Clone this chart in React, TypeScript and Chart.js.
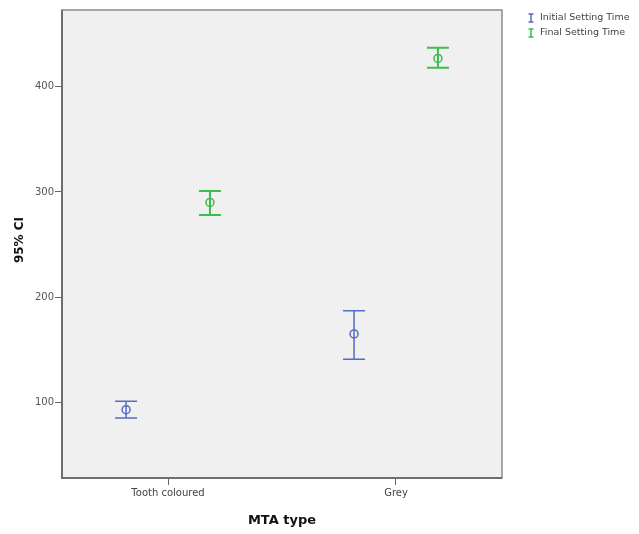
import React, { useEffect, useRef } from "react";
import { Chart, registerables } from "chart.js";
Chart.register(...registerables);

const categories = ["Tooth coloured", "Grey"];
const seriesNames = ["Initial Setting Time", "Final Setting Time"];
const initialMean = [93, 165];
const initialLower = [85, 141];
const initialUpper = [101, 187];
const finalMean = [290, 427];
const finalLower = [278, 418];
const finalUpper = [301, 437];
const yTicks = [100, 200, 300, 400];
const yTitle = "95% CI";
const xTitle = "MTA type";

const BLUE = "#556CC4";
const GREEN = "#3DBD4C";
const FONT = "'DejaVu Sans', Verdana, sans-serif";

const errorBarPlugin = {
  id: "errorBars",
  beforeDraw(chart: any) {
    const { ctx, chartArea } = chart;
    ctx.save();
    ctx.fillStyle = "#ffffff";
    ctx.fillRect(0, 0, chart.width, chart.height);
    ctx.fillStyle = "#F0F0F0";
    ctx.fillRect(chartArea.left, chartArea.top, chartArea.right - chartArea.left, chartArea.bottom - chartArea.top);
    ctx.restore();
  },
  afterDatasetsDraw(chart: any) {
    const { ctx, scales } = chart;
    const ys = scales.y;
    chart.data.datasets.forEach((ds: any, di: number) => {
      const meta = chart.getDatasetMeta(di);
      ctx.save();
      ctx.strokeStyle = ds.borderColor;
      ctx.lineWidth = ds.barWidth;
      meta.data.forEach((pt: any, i: number) => {
        const x = pt.x;
        const yl = ys.getPixelForValue(ds.lower[i]);
        const yu = ys.getPixelForValue(ds.upper[i]);
        const half = 11;
        ctx.beginPath();
        ctx.moveTo(x, yl);
        ctx.lineTo(x, yu);
        ctx.moveTo(x - half, yl);
        ctx.lineTo(x + half, yl);
        ctx.moveTo(x - half, yu);
        ctx.lineTo(x + half, yu);
        ctx.stroke();
      });
      ctx.restore();
    });
  },
  afterDraw(chart: any) {
    const { ctx, chartArea } = chart;
    ctx.save();
    // frame
    ctx.strokeStyle = "#8A8A8A";
    ctx.lineWidth = 1.5;
    ctx.strokeRect(chartArea.left, chartArea.top, chartArea.right - chartArea.left, chartArea.bottom - chartArea.top);
    ctx.strokeStyle = "#6E6E6E";
    ctx.lineWidth = 2;
    ctx.beginPath();
    ctx.moveTo(chartArea.left, chartArea.top);
    ctx.lineTo(chartArea.left, chartArea.bottom);
    ctx.lineTo(chartArea.right, chartArea.bottom);
    ctx.stroke();
    // axis titles
    ctx.fillStyle = "#111";
    ctx.font = `bold 13px ${FONT}`;
    ctx.textAlign = "center";
    ctx.textBaseline = "middle";
    ctx.fillText(xTitle, (chartArea.left + chartArea.right) / 2, 521);
    ctx.font = `bold 12px ${FONT}`;
    ctx.save();
    ctx.translate(20, (chartArea.top + chartArea.bottom) / 2 - 4);
    ctx.rotate(-Math.PI / 2);
    ctx.fillText(yTitle, 0, 0);
    ctx.restore();
    // legend
    const colors = [BLUE, GREEN];
    ctx.font = `9.5px ${FONT}`;
    ctx.textAlign = "left";
    seriesNames.forEach((name, i) => {
      const y = 18 + i * 15;
      const x = 531;
      ctx.strokeStyle = colors[i];
      ctx.lineWidth = 1.5;
      ctx.beginPath();
      ctx.moveTo(x, y - 4);
      ctx.lineTo(x, y + 4);
      ctx.moveTo(x - 2.5, y - 4);
      ctx.lineTo(x + 2.5, y - 4);
      ctx.moveTo(x - 2.5, y + 4);
      ctx.lineTo(x + 2.5, y + 4);
      ctx.stroke();
      ctx.fillStyle = "#444";
      ctx.fillText(name, x + 9, y);
    });
    ctx.restore();
  },
};

export default function App() {
  const ref = useRef<HTMLCanvasElement>(null);
  useEffect(() => {
    if (!ref.current) return;
    const off = 0.184;
    const chart = new Chart(ref.current, {
      type: "scatter",
      data: {
        datasets: [
          {
            label: seriesNames[0],
            data: initialMean.map((v, i) => ({ x: i + 1 - off, y: v })),
            lower: initialLower,
            upper: initialUpper,
            barWidth: 1.5,
            borderColor: BLUE,
            backgroundColor: "rgba(0,0,0,0)",
            pointRadius: 4,
            pointBorderWidth: 1.5,
          } as any,
          {
            label: seriesNames[1],
            data: finalMean.map((v, i) => ({ x: i + 1 + off, y: v })),
            lower: finalLower,
            upper: finalUpper,
            barWidth: 2,
            borderColor: GREEN,
            backgroundColor: "rgba(0,0,0,0)",
            pointRadius: 4,
            pointBorderWidth: 1.5,
          } as any,
        ],
      },
      options: {
        animation: false,
        responsive: false,
        maintainAspectRatio: false,
        layout: { padding: { left: 0, right: 137, top: 10, bottom: 0 } },
        plugins: { legend: { display: false }, tooltip: { enabled: false } },
        scales: {
          x: {
            type: "linear",
            min: 0.535,
            max: 2.465,
            afterBuildTicks: (s: any) => {
              s.ticks = categories.map((_, i) => ({ value: i + 1 }));
            },
            afterFit: (s: any) => {
              s.height = 56;
            },
            ticks: {
              callback: (v: any) => categories[Math.round(v) - 1] ?? "",
              font: { size: 10, family: FONT },
              color: "#444",
              padding: 2,
              maxRotation: 0,
            },
            grid: { drawOnChartArea: false, drawTicks: true, tickLength: 7, tickColor: "#666", tickWidth: 1 },
            border: { display: false },
          },
          y: {
            min: 28,
            max: 473,
            afterBuildTicks: (s: any) => {
              s.ticks = yTicks.map((v) => ({ value: v }));
            },
            afterFit: (s: any) => {
              s.width = 62;
            },
            ticks: {
              font: { size: 10, family: FONT },
              color: "#555",
              padding: 1,
            },
            grid: { drawOnChartArea: false, drawTicks: true, tickLength: 7, tickColor: "#666", tickWidth: 1 },
            border: { display: false },
          },
        },
      },
      plugins: [errorBarPlugin],
    } as any);
    return () => chart.destroy();
  }, []);
  return (
    <div style={{ position: "fixed", left: 0, top: 0, width: 639, height: 534, background: "#fff" }}>
      <canvas ref={ref} width={639} height={534} style={{ width: 639, height: 534 }} />
    </div>
  );
}
